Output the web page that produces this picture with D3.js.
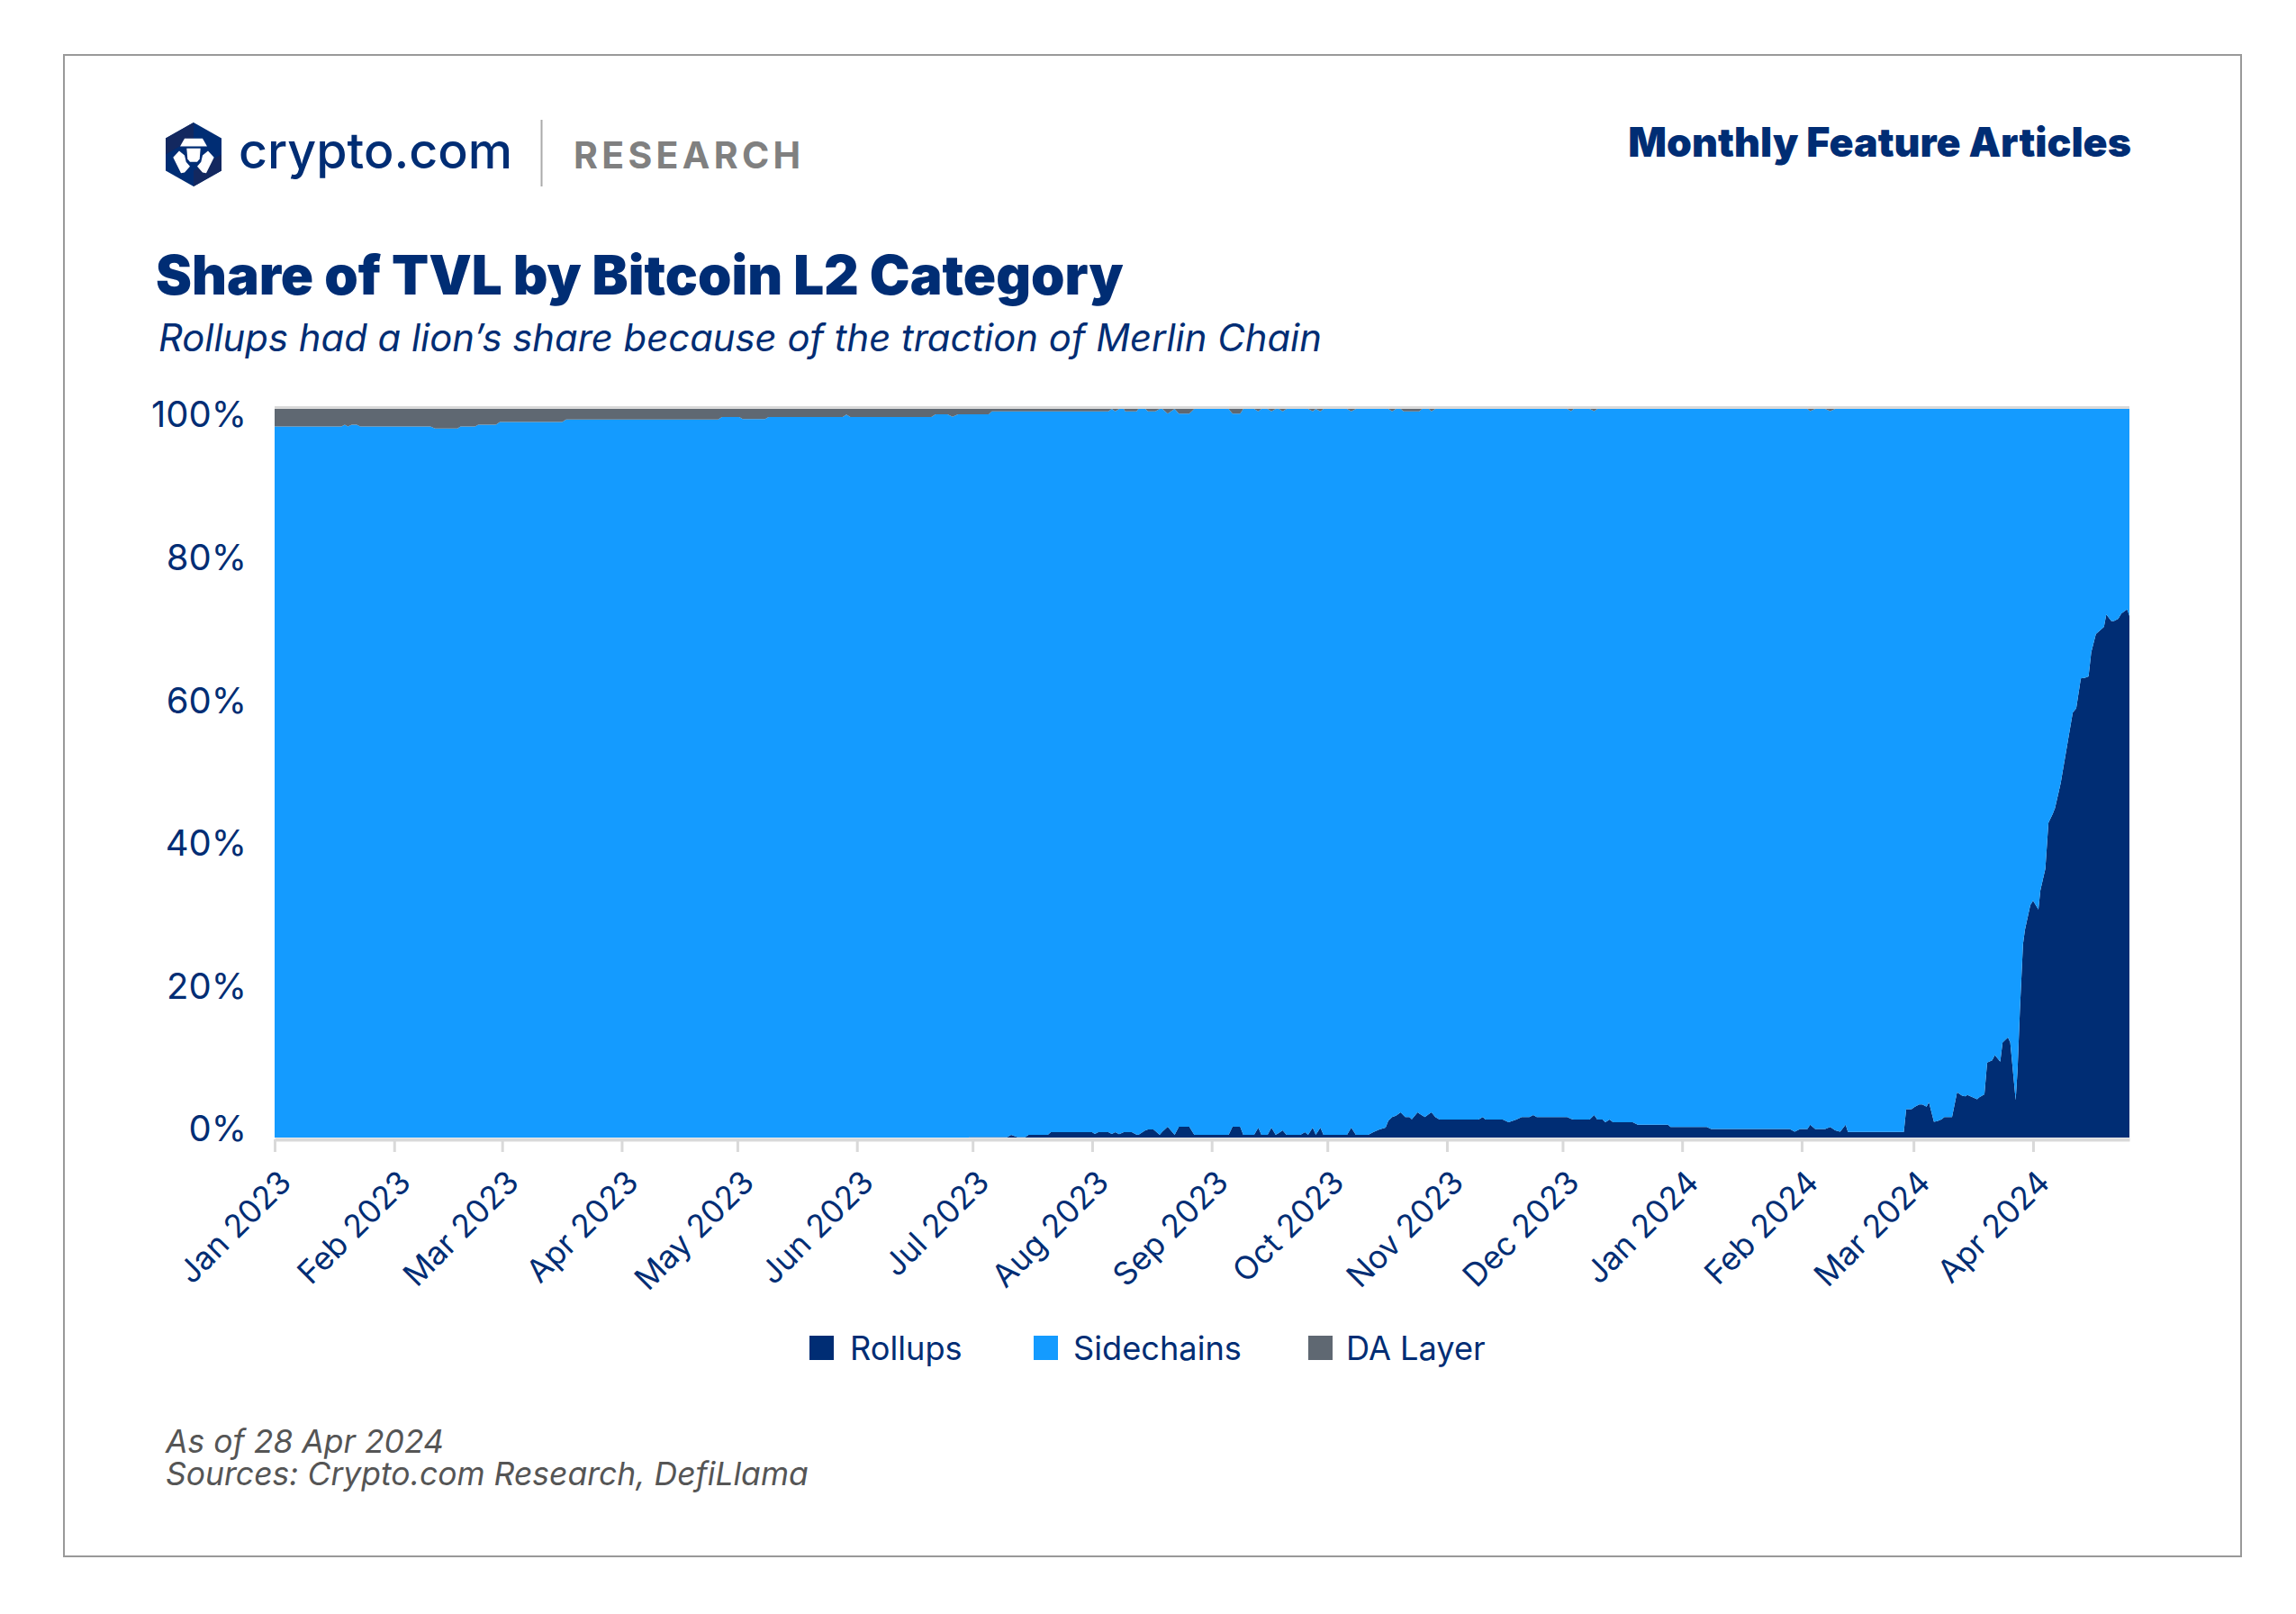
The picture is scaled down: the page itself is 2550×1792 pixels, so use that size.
<!DOCTYPE html>
<html>
<head>
<meta charset="utf-8">
<script src="https://cdn.jsdelivr.net/npm/d3@7"></script>
<style>
html, body { margin: 0; padding: 0; background: #fff; }
svg { display: block; }
text { font-family: Inter, sans-serif; }
</style>
</head>
<body>
<div id="chart"></div>
<script>
var days = [
  0,17.3,18.2,19,20,21.3,22.2,40.4,41.6,47.4,
  48.2,52,52.8,57.4,58.4,74.6,75.6,115,116,120.5,
  121.4,127.2,128.1,147.3,148.3,149.3,170.3,171.4,174.5,175.8,
  177.2,180,180.1,185.2,186,190,191,192.6,194.7,195.5,
  200.5,201.3,212,212.7,213.6,216.2,217.1,218,219,220.2,
  220.6,222.3,223.5,224,225.8,226.5,227.9,228.4,229.5,230.2,
  231.6,233.4,234.5,237.2,238.5,247.4,248.4,250.4,251.2,254,
  255.1,255.9,257.5,258.5,259.6,260.4,261.4,262.4,266,267.2,
  268,269.2,270,271.2,272,278.1,279.2,280.4,283.6,284.9,
  286.5,288.1,288.8,289.8,290.8,292,292.8,293.2,294.3,294.9,
  296.4,296.8,297.6,298.3,299.3,300,301,302.1,312.2,313.3,
  314,318.5,320,322,323.4,325.4,326.4,327.3,335.2,336.2,
  336.9,341,342.2,343,344.4,345.1,346.2,347.1,352.2,353.5,
  361.3,362,371.4,372.5,392.9,394.2,395.6,397.5,398.2,399.5,
  402.1,403.4,404.7,406,407.4,408,422.5,423.1,424.5,425.3,
  426.5,427.3,428.4,429,430.3,431.2,432.3,433,435,436.3,
  437.6,438.4,439,441.5,442,443.4,444.1,445.4,446.1,447.5,
  448.1,449.5,450.1,450.9,451.5,452,452.6,453.4,453.9,455.3,
  456,457.4,457.9,459.2,460,461.1,461.7,463.2,465,466.3,
  467.2,468.4,469.5,470.4,471.1,472.3,474.4,475,476.3,477,
  478.1,478.9,480.4,481
];

var rollups = [
  0,0,0,0,0,0,0,0,0,0,
  0,0,0,0,0,0,0,0,0,0,
  0,0,0,0,0,0,0,0,0,0,
  0,0,.07,.07,.07,.07,.37,.07,.07,.37,
  .37,.74,.74,.5,.74,.74,.5,.74,.45,.74,
  .74,.74,.4,.37,.99,1.11,1.11,.9,.37,.8,
  1.48,.37,1.48,1.48,.37,.37,1.48,1.48,.37,.37,
  1.36,.37,.37,1.36,.37,.63,.99,.37,.37,.74,
  .37,1.36,.37,1.36,.37,.37,1.36,.37,.37,.74,
  1.11,1.36,2.28,2.8,3,3.46,3.02,2.8,2.8,2.51,
  3.46,3.3,3.03,2.8,3.2,3.46,2.8,2.47,2.47,2.8,
  2.47,2.47,2.1,2.47,2.8,2.8,3.09,2.8,2.8,2.55,
  2.47,2.47,3.09,2.47,2.47,2.1,2.47,2.1,2.1,1.77,
  1.77,1.44,1.44,1.16,1.16,.8,1.16,1.16,1.76,1.16,
  1.16,1.46,1,.8,1.76,.76,.76,3.88,3.88,4.2,
  4.53,4.53,4.23,4.84,2.17,2.27,2.5,2.82,2.82,6.2,
  5.74,5.64,5.84,5.24,5.5,5.94,10.3,10.6,11.3,10.4,
  13.05,13.75,13.05,8.5,5.14,9.4,17.5,26.5,28.5,31.9,
  32.5,31.3,33.9,36.9,43.2,44.4,45.2,48.7,54.3,58.3,
  58.9,63,63.1,63.3,66.6,69.1,70.1,71.8,70.9,70.9,
  71.2,71.9,72.5,71.6
];

var sidechains = [
  97.6,97.6,97.85,97.6,97.85,97.85,97.6,97.6,97.3,97.3,
  97.6,97.6,97.85,97.85,98.2,98.2,98.55,98.55,98.9,98.9,
  98.6,98.6,98.9,98.9,99.22,98.9,98.9,99.25,99.25,98.93,
  99.25,99.25,99.18,99.18,99.6,99.6,99.3,99.6,99.6,99.3,
  99.3,98.93,98.93,99.17,98.93,98.93,99.5,98.93,99.55,99.26,
  98.93,98.93,99.27,99.63,99.01,98.56,98.56,98.77,99.63,99.2,
  97.86,99.63,97.86,97.86,99.63,99.63,97.86,97.86,99.63,99.63,
  98.31,99.63,99.63,98.31,99.63,99.37,98.68,99.63,99.63,99.26,
  99.63,98.31,99.63,98.31,99.63,99.63,98.31,99.63,99.63,99.26,
  98.89,98.64,97.72,96.87,97,96.54,96.65,96.87,96.87,97.16,
  96.21,96.37,96.97,97.2,96.8,96.21,97.2,97.53,97.53,97.2,
  97.53,97.53,97.9,97.53,97.2,97.2,96.91,97.2,97.2,97.15,
  97.53,97.53,96.61,97.53,97.53,97.9,97.53,97.9,97.9,98.23,
  98.23,98.56,98.56,98.84,98.84,99.2,98.84,98.84,97.94,98.84,
  98.84,98.24,99,99.2,98.24,99.24,99.24,96.12,96.12,95.8,
  95.47,95.47,95.77,95.16,97.83,97.73,97.5,97.18,97.18,93.8,
  94.26,94.36,94.16,94.76,94.5,94.06,89.7,89.4,88.7,89.6,
  86.95,86.25,86.95,91.5,94.86,90.6,82.5,73.5,71.5,68.1,
  67.5,68.7,66.1,63.1,56.8,55.6,54.8,51.3,45.7,41.7,
  41.1,37,36.9,36.7,33.4,30.9,29.9,28.2,29.1,29.1,
  28.8,28.1,27.5,28.4
];

var daLayer = [
  2.4,2.4,2.15,2.4,2.15,2.15,2.4,2.4,2.7,2.7,
  2.4,2.4,2.15,2.15,1.8,1.8,1.45,1.45,1.1,1.1,
  1.4,1.4,1.1,1.1,.78,1.1,1.1,.75,.75,1.07,
  .75,.75,.75,.75,.33,.33,.33,.33,.33,.33,
  .33,.33,.33,.33,.33,.33,0,.33,0,0,
  .33,.33,.33,0,0,.33,.33,.33,0,0,
  .66,0,.66,.66,0,0,.66,.66,0,0,
  .33,0,0,.33,0,0,.33,0,0,0,
  0,.33,0,.33,0,0,.33,0,0,0,
  0,0,0,.33,0,0,.33,.33,.33,.33,
  .33,.33,0,0,0,.33,0,0,0,0,
  0,0,0,0,0,0,0,0,0,.3,
  0,0,.3,0,0,0,0,0,0,0,
  0,0,0,0,0,0,0,0,.3,0,
  0,.3,0,0,0,0,0,0,0,0,
  0,0,0,0,0,0,0,0,0,0,
  0,0,0,0,0,0,0,0,0,0,
  0,0,0,0,0,0,0,0,0,0,
  0,0,0,0,0,0,0,0,0,0,
  0,0,0,0,0,0,0,0,0,0,
  0,0,0,0
];

var seriesNames = ["Rollups", "Sidechains", "DA Layer"];
var seriesColors = ["#002d74", "#149bff", "#5f6872"];
var yTicks = [0, 20, 40, 60, 80, 100];

var navy = "#002d74";
var w = 2550;
var h = 1792;

var startDay = Date.UTC(2023, 0, 1);
function dayToDate(d) {
  return new Date(startDay + d * 86400000);
}

var rows = days.map(function(d, i) {
  return {
    date: dayToDate(d),
    "Rollups": rollups[i],
    "Sidechains": sidechains[i],
    "DA Layer": daLayer[i]
  };
});

var svg = d3.select("#chart").append("svg")
  .attr("width", w)
  .attr("height", h);

// outer frame
svg.append("rect")
  .attr("x", 71)
  .attr("y", 61)
  .attr("width", 2418)
  .attr("height", 1667)
  .attr("fill", "none")
  .attr("stroke", "#999")
  .attr("stroke-width", 2);

// logo
var logo = svg.append("g").attr("transform", "translate(215,171.5)");
logo.append("path")
  .attr("d", "M0,-35.5 L31,-18 L31,18 L0,35.5 L-31,18 L-31,-18 Z")
  .attr("fill", navy);
logo.append("path")
  .attr("d", "M0,-35.5 L-31,-18 L-31,0 L0,-18 Z")
  .attr("fill", "#13285f");
logo.append("path")
  .attr("d", "M0,35.5 L31,18 L31,0 L0,18 Z")
  .attr("fill", "#13285f");
logo.append("path")
  .attr("d", "M-10,-17.7 L10,-17.7 L15,-9 L-15,-9 Z")
  .attr("fill", "#fff");
logo.append("path")
  .attr("d", "M-7.7,-6.7 L7.7,-6.7 L6.7,5 L4,8.3 L-4,8.3 L-6.7,5 Z")
  .attr("fill", "#fff");
logo.append("path")
  .attr("d", "M-16,-4 L-22.7,3.3 L-14,20.7 L-10,20 L-4,13.3 L-8.3,8.3 L-10,1 Z")
  .attr("fill", "#fff");
logo.append("path")
  .attr("d", "M16,-4 L22.7,3.3 L14,20.7 L10,20 L4,13.3 L8.3,8.3 L10,1 Z")
  .attr("fill", "#fff");

svg.append("text")
  .attr("x", 265)
  .attr("y", 187)
  .attr("font-size", 55.5)
  .attr("font-weight", 500)
  .attr("fill", navy)
  .text("crypto.com");

svg.append("line")
  .attr("x1", 601.5).attr("x2", 601.5)
  .attr("y1", 133).attr("y2", 207)
  .attr("stroke", "#aaa")
  .attr("stroke-width", 2);

svg.append("text")
  .attr("x", 637)
  .attr("y", 187)
  .attr("font-size", 41)
  .attr("font-weight", 700)
  .attr("letter-spacing", 4.3)
  .attr("fill", "#808080")
  .text("RESEARCH");

svg.append("text")
  .attr("x", 2367)
  .attr("y", 174)
  .attr("text-anchor", "end")
  .attr("font-size", 44.7)
  .attr("font-weight", 900)
  .attr("fill", navy)
  .text("Monthly Feature Articles");

svg.append("text")
  .attr("x", 173)
  .attr("y", 327)
  .attr("font-size", 60)
  .attr("font-weight", 900)
  .attr("fill", navy)
  .text("Share of TVL by Bitcoin L2 Category");

svg.append("text")
  .attr("x", 176)
  .attr("y", 390)
  .attr("font-size", 41.8)
  .attr("font-style", "italic")
  .attr("fill", navy)
  .text("Rollups had a lion\u2019s share because of the traction of Merlin Chain");

// plot
var x = d3.scaleUtc()
  .domain([dayToDate(0), dayToDate(481)])
  .range([305, 2365]);

var y = d3.scaleLinear()
  .domain([0, 100])
  .range([1263, 454]);

// the labels sit a little inside the plot height in the source chart
var yLabel = d3.scaleLinear()
  .domain([0, 100])
  .range([1254, 461]);

var stack = d3.stack().keys(seriesNames);
var area = d3.area()
  .x(function(d) { return x(d.data.date); })
  .y0(function(d) { return y(d[0]); })
  .y1(function(d) { return y(d[1]); });

svg.append("line")
  .attr("x1", 305).attr("x2", 2365)
  .attr("y1", 452.5).attr("y2", 452.5)
  .attr("stroke", "#d9d9d9")
  .attr("stroke-width", 3);

svg.selectAll("path.layer")
  .data(stack(rows))
  .enter()
  .append("path")
  .attr("class", "layer")
  .attr("fill", function(d, i) { return seriesColors[i]; })
  .attr("d", area);

var monthTicks = d3.utcMonth.range(dayToDate(0), dayToDate(481));

var xAxis = d3.axisBottom(x)
  .tickValues(monthTicks)
  .tickSize(14)
  .tickSizeOuter(0)
  .tickFormat(d3.utcFormat("%b %Y"));

var gx = svg.append("g")
  .attr("transform", "translate(0,1265)")
  .call(xAxis);

gx.select(".domain").attr("stroke", "#d9d9d9").attr("stroke-width", 4);
gx.selectAll(".tick line").attr("stroke", "#d9d9d9").attr("stroke-width", 3);
gx.selectAll(".tick text")
  .attr("font-family", "Inter, sans-serif")
  .attr("font-size", 35.5)
  .attr("fill", navy)
  .attr("text-anchor", "end")
  .attr("dy", 0)
  .attr("y", 0)
  .attr("x", 0)
  .attr("transform", "translate(20,50) rotate(-45)");

var yAxis = d3.axisLeft(yLabel)
  .tickValues(yTicks)
  .tickSize(0)
  .tickFormat(function(d) { return d + "%"; });

var gy = svg.append("g")
  .attr("transform", "translate(274,0)")
  .call(yAxis);

gy.select(".domain").remove();
gy.selectAll(".tick text")
  .attr("x", 0)
  .attr("font-family", "Inter, sans-serif")
  .attr("font-size", 40)
  .attr("fill", navy);

// legend
var legendSwatchX = [899, 1148, 1453];
var legendTextX = [45, 44, 42];
var legend = svg.selectAll("g.legend")
  .data(seriesNames)
  .enter()
  .append("g")
  .attr("class", "legend")
  .attr("transform", function(d, i) { return "translate(" + legendSwatchX[i] + ",1483)"; });

legend.append("rect")
  .attr("width", 27)
  .attr("height", 27)
  .attr("fill", function(d, i) { return seriesColors[i]; });

legend.append("text")
  .attr("x", function(d, i) { return legendTextX[i]; })
  .attr("y", 27)
  .attr("font-size", 36.2)
  .attr("fill", navy)
  .text(function(d) { return d; });

// footer
svg.append("text")
  .attr("x", 184)
  .attr("y", 1613)
  .attr("font-size", 35.5)
  .attr("font-style", "italic")
  .attr("fill", "#555")
  .text("As of 28 Apr 2024");

svg.append("text")
  .attr("x", 184)
  .attr("y", 1649)
  .attr("font-size", 35.5)
  .attr("font-style", "italic")
  .attr("fill", "#555")
  .text("Sources: Crypto.com Research, DefiLlama");
</script>
</body>
</html>
